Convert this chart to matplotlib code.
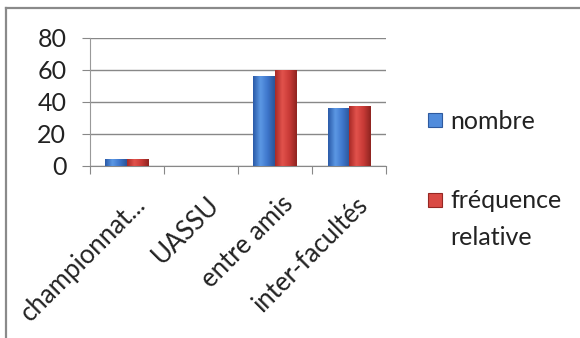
import numpy as np
import matplotlib.pyplot as plt
from matplotlib.colors import LinearSegmentedColormap
from matplotlib.patches import Rectangle

categories = ["championnat...", "UASSU", "entre amis", "inter-facultés"]
nombre = [4.5, 0, 56, 36]
frequence = [4.6, 0, 60, 37.5]
series_names = ["nombre", "fréquence\nrelative"]

plt.rcParams['font.family'] = ['Lato', 'DejaVu Sans']

W, H = 580, 338
fig = plt.figure(figsize=(W / 100, H / 100), dpi=100)
ax = fig.add_axes([0.155, 0.509, 0.5105, 0.379])

# gray frame top/left of the picture
fig.add_artist(plt.Line2D([0.011, 0.011], [0, 0.976], color='#8a8a8a', lw=1.6))
fig.add_artist(plt.Line2D([0.011, 1.0], [0.976, 0.976], color='#8a8a8a', lw=1.6))

blue = LinearSegmentedColormap.from_list('b', ['#2a5aa8', '#5c98e4', '#3e76cc', '#2b5598'])
red = LinearSegmentedColormap.from_list('r', ['#a82a27', '#e2524c', '#c83a36', '#8e2420'])

x = np.arange(len(categories)) + 0.5
w = 0.29
grad = np.linspace(0, 1, 64).reshape(1, -1)

def gbar(xs, vals, cmap, off):
    bars = ax.bar(xs + off, vals, w, color=cmap(0.6), zorder=3)
    for b in bars:
        h = b.get_height()
        if h <= 0:
            continue
        x0 = b.get_x()
        im = ax.imshow(grad, cmap=cmap, aspect='auto', zorder=4,
                       extent=[x0, x0 + w, 0, h], interpolation='bicubic')
        im.set_clip_path(b)
    return bars

b1 = gbar(x, nombre, blue, -w / 2)
b2 = gbar(x, frequence, red, w / 2)

ax.set_xlim(0, len(categories))
ax.set_ylim(0, 80)
ax.set_yticks([0, 20, 40, 60, 80])
ax.yaxis.grid(True, color='#888888', lw=1)
ax.set_axisbelow(True)
for s in ['top', 'right']:
    ax.spines[s].set_visible(False)
ax.spines['left'].set_color('#999999')
ax.spines['bottom'].set_color('#888888')
ax.tick_params(axis='y', length=6, color='#888888', labelsize=18, pad=11, labelcolor='#222222')
ax.set_xticks(np.arange(len(categories) + 1))
ax.set_xticklabels([])
ax.tick_params(axis='x', length=6, color='#888888')
for xi, lab in zip(x, categories):
    ax.text(xi + 0.08, -16, lab, rotation=45, ha='right', va='top',
            rotation_mode='anchor', fontsize=18.5, color='#222222')

# legend keys on the right
for (yk, yb), name, cmap in zip([(120, 129), (200, 208)], series_names, [blue, red]):
    fig.add_artist(Rectangle(((428) / W, 1 - (yk + 7) / H), 14 / W, 14 / H,
                             transform=fig.transFigure, facecolor=cmap(0.45),
                             edgecolor=cmap(0.95), lw=0.8))
    fig.text(450 / W, 1 - yb / H, name.split('\n')[0], fontsize=18,
             color='#222222', va='baseline')
    if '\n' in name:
        fig.text(450 / W, 1 - (yb + 37) / H, name.split('\n')[1], fontsize=18,
                 color='#222222', va='baseline')

fig.savefig('out.png', dpi=100, facecolor='white')
